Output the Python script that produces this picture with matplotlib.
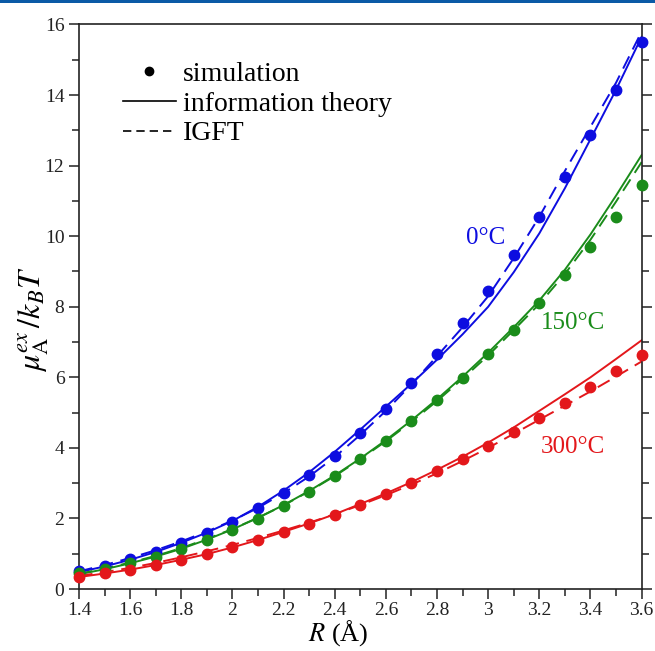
import numpy as np
import matplotlib
matplotlib.use('Agg')
import matplotlib.pyplot as plt
from matplotlib.lines import Line2D
from matplotlib.patches import Rectangle
from matplotlib.ticker import MultipleLocator, FuncFormatter

plt.rcParams['font.family'] = ['Liberation Serif', 'DejaVu Serif']
plt.rcParams['mathtext.fontset'] = 'stix'

# R values (Angstrom)
r = [1.4, 1.5, 1.6, 1.7, 1.8, 1.9, 2.0, 2.1, 2.2, 2.3, 2.4, 2.5,
     2.6, 2.7, 2.8, 2.9, 3.0, 3.1, 3.2, 3.3, 3.4, 3.5, 3.6]

# simulation points
sim_0 = [0.50, 0.65, 0.84, 1.05, 1.30, 1.59, 1.90, 2.30, 2.73, 3.22, 3.78, 4.43,
         5.10, 5.84, 6.66, 7.54, 8.46, 9.46, 10.53, 11.68, 12.88, 14.15, 15.51]
sim_150 = [0.45, 0.57, 0.74, 0.91, 1.13, 1.39, 1.67, 1.99, 2.35, 2.75, 3.21, 3.69,
           4.20, 4.77, 5.36, 5.99, 6.67, 7.35, 8.11, 8.90, 9.70, 10.55, 11.46]
sim_300 = [0.34, 0.44, 0.53, 0.67, 0.83, 0.98, 1.18, 1.38, 1.61, 1.85, 2.11, 2.39,
           2.70, 3.00, 3.35, 3.69, 4.06, 4.45, 4.85, 5.27, 5.73, 6.18, 6.64]

# information theory (solid)
it_0 = [0.48, 0.64, 0.83, 1.05, 1.31, 1.60, 1.93, 2.33, 2.79, 3.31, 3.89, 4.52,
        5.17, 5.82, 6.50, 7.22, 8.00, 8.98, 10.08, 11.36, 12.75, 14.15, 15.65]
it_150 = [0.42, 0.56, 0.73, 0.92, 1.14, 1.40, 1.69, 2.02, 2.38, 2.78, 3.22, 3.70,
          4.22, 4.78, 5.38, 6.02, 6.70, 7.42, 8.18, 9.05, 10.05, 11.15, 12.30]
it_300 = [0.34, 0.44, 0.55, 0.68, 0.83, 0.99, 1.18, 1.39, 1.62, 1.86, 2.12, 2.41,
          2.71, 3.03, 3.38, 3.75, 4.15, 4.58, 5.05, 5.52, 6.00, 6.52, 7.05]

# IGFT (dashed)
igft_0 = [0.50, 0.68, 0.88, 1.10, 1.35, 1.63, 1.94, 2.30, 2.72, 3.19, 3.74, 4.37,
          5.05, 5.80, 6.60, 7.42, 8.30, 9.38, 10.55, 11.85, 13.10, 14.35, 15.80]
igft_150 = [0.43, 0.58, 0.75, 0.94, 1.16, 1.42, 1.70, 2.02, 2.37, 2.77, 3.20, 3.68,
            4.19, 4.74, 5.33, 5.96, 6.62, 7.34, 8.08, 8.93, 9.90, 10.98, 12.10]
igft_300 = [0.37, 0.48, 0.60, 0.74, 0.90, 1.07, 1.25, 1.45, 1.66, 1.88, 2.12, 2.38,
            2.66, 2.96, 3.28, 3.63, 4.00, 4.40, 4.80, 5.20, 5.60, 6.02, 6.45]

series = [
    ('0°C', '#0d0de0', sim_0, it_0, igft_0, (2.99, 9.95)),
    ('150°C', '#1a8c1a', sim_150, it_150, igft_150, (3.33, 7.55)),
    ('300°C', '#e3171b', sim_300, it_300, igft_300, (3.33, 4.03)),
]

fig = plt.figure(figsize=(6.55, 6.51), dpi=100)
ax = fig.add_axes([0.1206, 0.0952, 0.859, 0.8672])

for label, c, sim, it, igft, pos in series:
    ax.plot(r, it, color=c, lw=1.4)
    ax.plot(r, igft, color=c, lw=1.4, linestyle=(0, (7, 4)))
    ax.plot(r, sim, 'o', color=c, markersize=7.5, clip_on=False, zorder=5)
    ax.text(pos[0], pos[1], label, color=c, fontsize=18, ha='center', va='center')

ax.set_xlim(1.4, 3.6)
ax.set_ylim(0, 16)
ax.xaxis.set_major_locator(MultipleLocator(0.2))
ax.xaxis.set_minor_locator(MultipleLocator(0.1))
ax.yaxis.set_major_locator(MultipleLocator(2))
ax.yaxis.set_minor_locator(MultipleLocator(1))
ax.xaxis.set_major_formatter(FuncFormatter(lambda v, p: '%g' % round(v, 1)))
ax.tick_params(which='both', direction='out', right=True, top=False, labelsize=14,
               width=1.1, colors='#222222')
ax.tick_params(which='major', length=7)
ax.tick_params(which='minor', length=5)
ax.tick_params(axis='x', pad=2)
for s in ax.spines.values():
    s.set_linewidth(1.2)
    s.set_color('#222222')

ax.set_xlabel(r'$R$ (Å)', fontsize=19)
ax.xaxis.set_label_coords(0.461, -0.052)
ax.set_ylabel(r'$\mu_{\mathrm{A}}^{ex}\,/k_BT$', fontsize=23)
ax.yaxis.set_label_coords(-0.05, 0.477)

handles = [
    Line2D([], [], color='black', marker='o', linestyle='none', markersize=6),
    Line2D([], [], color='black', lw=1.2),
    Line2D([], [], color='black', lw=1.2, linestyle=(0, (5, 3))),
]
ax.legend(handles, ['simulation', 'information theory', 'IGFT'], loc='upper left',
          bbox_to_anchor=(0.078, 0.934), frameon=False, fontsize=20,
          borderpad=0, borderaxespad=0, handlelength=1.9, handletextpad=0.25,
          labelspacing=0.15)

# header bar at very top
fig.add_artist(Rectangle((0, 1 - 3 / 651), 1, 3 / 651, transform=fig.transFigure,
                         color='#0b5aa6', lw=0))

fig.savefig('out.png', dpi=100)
